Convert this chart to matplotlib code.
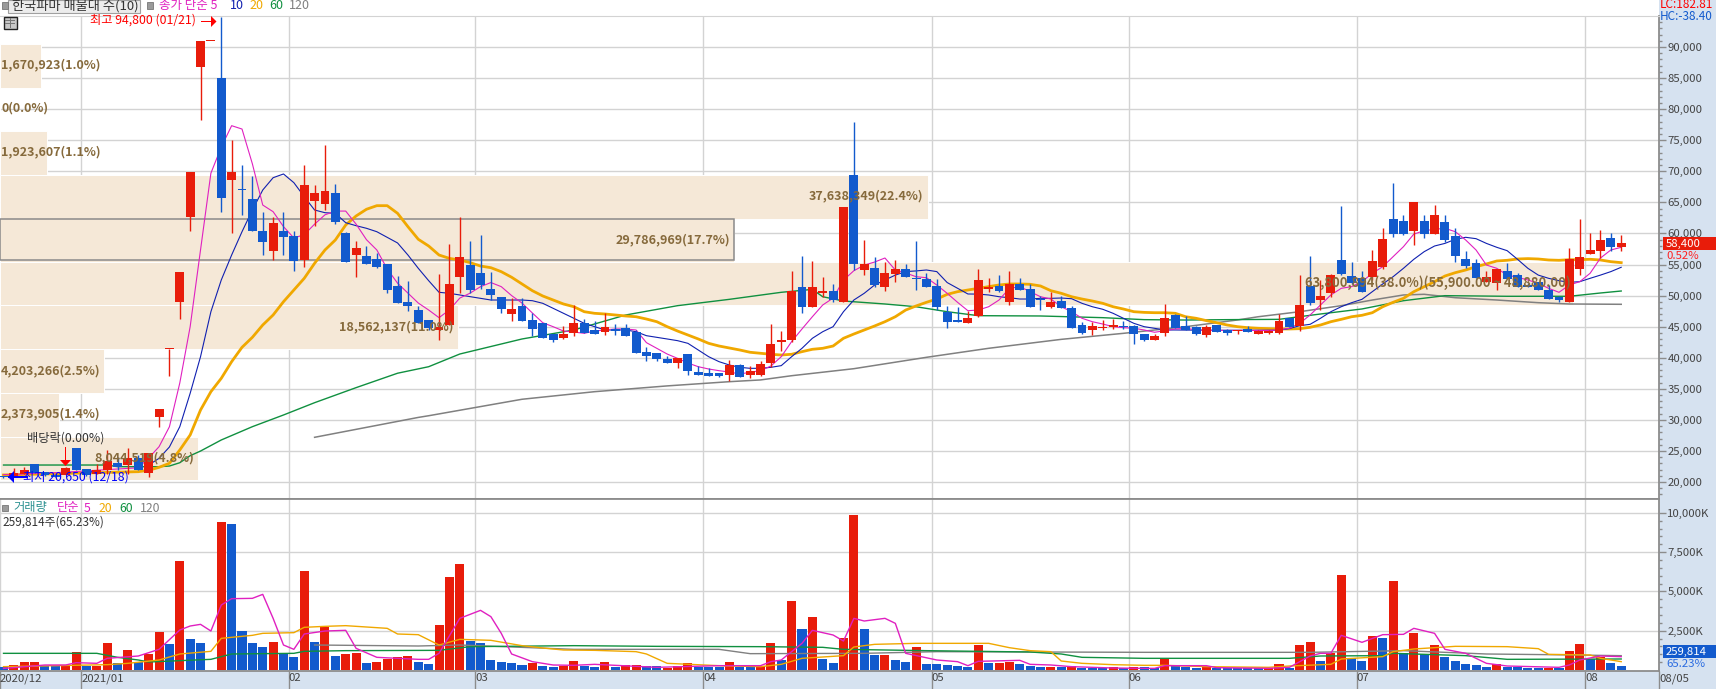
import matplotlib
matplotlib.use("Agg")
import matplotlib.pyplot as plt
from matplotlib.patches import Rectangle, Polygon
from matplotlib.ticker import FixedLocator

plt.rcParams['font.family'] = ['Noto Sans CJK KR', 'DejaVu Sans']

# ---------- candles (open, high, low, close), daily bars ----------
opens = [20900,20810,21300,22900,21620,21140,21140,25430,22100,21230,
 21940,23110,22740,23870,21460,30420,41360,49020,62700,86830,
 90900,85010,68600,67100,65550,60390,57200,60390,59590,55730,
 65200,64740,66500,60120,56580,56370,55890,55090,51550,49020,
 47680,46080,44470,45270,53040,54930,53640,51060,49780,47040,
 48330,46080,45590,43870,43150,44040,45640,44470,44150,44630,
 44790,44150,40930,40750,39800,39150,40600,37710,37550,37550,
 37220,38830,37220,37220,39150,42550,42860,51380,48170,50420,
 50740,48970,69400,54120,54440,51380,53480,54280,52750,52670,
 51550,47360,46000,45590,46720,51100,51550,48970,51870,51060,
 49350,48170,49130,48000,45270,44470,44800,44870,45100,45110,
 43820,42860,43980,46880,45110,44950,43660,45270,44470,44230,
 44630,43820,43980,43980,46400,45110,51550,49290,50420,55730,
 53150,52830,52990,54600,62320,62000,60390,62000,59910,61840,
 59590,55890,55250,52190,52020,53960,53320,51700,52190,50900,
 49770,48970,54280,56690,57170,59270,57820]
highs = [21000,22260,22470,22900,21620,21300,22400,25430,22100,22900,
 25160,24000,25500,24350,24680,31750,41400,53800,69840,90900,
 90900,94800,75040,71000,69240,63450,62600,63450,60440,71020,
 67800,74230,67960,60300,58830,58030,56900,55090,53150,52400,
 48330,46080,53480,58300,62600,58790,59750,53800,49780,49560,
 49560,47250,45590,43870,45110,48490,46230,45910,47200,45430,
 45430,44470,41730,40750,40280,39960,40600,38670,38360,37550,
 39640,39000,38670,39480,45430,44310,53960,56370,55570,52990,
 51870,64260,77930,58950,56200,55400,55730,55090,58790,53640,
 52670,48330,48170,47520,54280,52830,53300,53960,52830,51870,
 49930,50580,49930,48330,45750,45750,46080,46230,45900,45300,
 43820,43820,48650,47000,46700,45100,45270,45270,44600,44500,
 45100,44500,44500,47040,46400,53300,56370,52510,53500,64420,
 55400,54000,57340,60900,68120,62970,65060,62970,64580,62970,
 60900,57170,55890,53960,54280,55250,53640,52000,52190,51700,
 49930,57660,62320,60060,60550,60060,59750]
lows = [20650,20810,21300,21460,21000,20860,21140,21940,21000,21230,
 21300,22000,21300,21940,20860,28800,37110,46230,60440,78250,
 90900,63500,60120,63000,60440,56500,55730,56530,54000,54600,
 61200,63770,61520,55450,53040,55090,54400,50370,48860,47570,
 45640,44500,42860,45270,50460,50460,51020,49290,47150,45970,
 45970,43500,43220,42530,42990,43500,43930,43820,43660,43660,
 43500,40750,39480,39480,39150,38360,37220,37220,37060,36900,
 36260,36900,36740,37000,38520,41080,42500,47200,48170,49780,
 49000,48970,54120,53300,51380,50740,52190,52990,50900,51380,
 47680,44790,45750,45590,46500,50580,50500,48490,50900,48170,
 47680,48000,48000,44790,43820,43660,44470,44700,44700,42210,
 42700,42860,43500,44790,44470,43600,43340,44150,43600,43800,
 44150,43800,43900,43800,44950,44310,48500,47680,49700,53300,
 51800,50580,52500,54300,59500,59800,58140,59300,59910,58600,
 55400,54400,52830,52190,50900,52670,51380,51380,50900,49450,
 48970,48970,53300,56690,56040,57170,57170]
closes = [20750,21460,21940,21460,21140,20860,22260,21940,21140,21940,
 23390,22470,23870,21940,24680,31750,41400,53800,69840,90900,
 90900,65700,69900,67000,60440,58670,61680,59480,55620,67800,
 66500,66830,61900,55450,57650,55090,54560,50900,48860,48380,
 45640,44730,44950,51870,56210,50900,51710,50100,47850,47850,
 45970,44580,43220,42910,43790,45590,43930,43820,44950,44310,
 43500,40750,40280,39800,39150,39960,37870,37220,37060,37060,
 38830,36900,37870,38990,42210,42800,50740,48170,51380,50700,
 49290,64260,55090,55130,51710,53640,54280,52990,52600,51380,
 48170,45750,45800,46400,52510,51350,50740,51870,50900,48170,
 49230,48970,48000,44790,43980,45110,44950,45270,44960,43820,
 42860,43500,46400,44790,44470,43820,44950,44150,44040,44390,
 44150,44310,44310,45910,44950,48490,48810,49930,53320,53480,
 52020,50580,55570,59110,59910,59910,65060,59910,62970,58950,
 56370,54760,52830,52990,54280,52670,51380,51380,50900,49450,
 49290,55890,56210,57340,58950,57820,58400]

volumes_k = [190,320,510,510,275,233,275,1145,275,275,
 1717,445,1272,510,1018,2417,1654,6932,1972,1717,
 20,9413,9286,2480,1717,1463,1781,1060,827,6296,
 1781,2735,890,1018,1081,445,510,720,827,890,
 510,382,2862,5915,6742,1844,1717,636,510,445,
 318,424,254,190,275,572,275,190,510,190,
 318,318,275,233,148,275,445,190,190,190,
 510,190,190,254,1717,636,4388,2608,3370,700,
 445,2035,9858,2608,954,954,636,510,1463,382,
 382,318,254,190,1590,445,445,510,382,254,
 190,190,212,254,148,148,148,170,106,170,
 190,148,742,275,190,148,275,148,127,110,
 110,110,120,403,148,1590,1781,572,1081,6042,
 763,572,2162,2035,5660,1081,2353,1018,1590,827,
 572,382,318,190,360,190,190,148,148,148,
 148,1208,1654,700,827,445,260]
volume_up = ("brrrbbrrbr" "rbrbrrbrbb" "rrbbbbrbbr" "brbrrbrrrr"
 "bbrrrbbbbb" "brbbrrbbrb" "rrbbrrrbbb" "rbbrrbrbrb"
 "brrbbrbbrb" "bbbbrbrrbb" "brbrbbbrbr" "bbrbbbrbbb"
 "bbrrbrrbrr" "bbrbrbrbrb" "bbbbrbbbbr" "brrbrbb")

# ---------- price moving averages (bar index, price) ----------
ma5_idx = list(range(0,157))
ma5_val = [21200,21200,21300,21400,21500,21500,21600,21700,21800,21900,
 22000,22100,22200,22300,23870,25690,28900,35940,45000,57340,
 69700,73900,77340,76800,71200,64570,63500,61100,59270,59800,
 61500,63000,63600,63600,61500,59000,57340,54300,52000,50400,
 48800,47680,46450,47700,49600,50400,51440,52100,51440,50000,
 48800,47200,45640,45000,44300,44140,43930,44300,44470,44630,
 44630,44470,42430,41520,40600,39900,39150,38560,38190,37920,
 37700,37390,37660,37930,38670,40170,42600,44630,46600,48490,
 49600,52500,54000,54900,55400,56050,54120,53640,53040,52880,
 51700,50370,48920,47570,47680,48210,49290,51170,51440,50630,
 49820,49450,48210,47410,46350,45800,45430,45000,44840,44740,
 44470,44100,44350,44630,44740,44500,44400,44400,44400,44400,
 44400,44400,44400,44470,44740,45540,46880,48490,50100,51170,
 51440,52240,53590,54650,56260,57870,59900,60440,60660,60830,
 60280,58950,57340,54920,54390,53300,52950,52510,51980,51170,
 50530,51710,52240,53590,56050,57340,57770]
ma10_idx = list(range(14,157))
ma10_val = [22740,23820,25640,28910,34280,40170,47410,52510,56530,60280,
 63770,66990,68970,69570,68170,65920,63770,63340,63240,61730,
 61250,60830,60280,59380,58470,56530,54390,52400,50530,50370,
 50100,49820,49560,49290,49290,49290,49290,49180,48760,47960,
 47150,46350,45540,45000,44470,44470,44470,44190,43550,43290,
 43020,42750,42320,41250,40170,39370,38830,38460,38300,38300,
 38460,38730,40170,41520,43130,44190,45000,47410,49290,50370,
 51700,52510,53300,53860,53970,54120,53860,52100,51170,50260,
 50240,50100,49820,49660,49450,49450,49560,49560,49610,49500,
 48760,48210,47800,47150,46350,45540,45000,44740,44470,44470,
 44450,44450,44450,44420,44420,44420,44420,44420,44420,44430,
 44700,45160,45380,46350,47410,48210,48860,49400,50630,51870,
 53040,54390,55840,57070,57980,58400,59060,59380,59160,58400,
 57770,57230,55840,54390,53300,52780,52400,52140,52240,52780,
 53300,53860,54560]
ma20_idx = [0,13] + list(range(14,157))
ma20_val = [21140,21670,21890,22370,23020,25160,27570,31590,34540,36690,
 39370,41680,43290,45270,46880,49020,50900,52780,55200,57340,
 58950,61360,62810,63890,64470,64470,63240,61090,59060,57980,
 56530,55990,55730,55300,54760,54490,53850,52950,51870,50790,
 49940,49290,48650,48210,47410,47150,47040,46880,46720,46600,
 46230,45800,45000,44300,43660,43020,42320,41890,41570,41250,
 40880,40720,40560,40440,40560,40980,41360,41520,41890,43130,
 43820,44470,45110,45800,46600,47680,48330,48920,49450,50200,
 50630,50900,51170,51440,51710,51870,51870,51820,51550,50790,
 50370,49820,49450,49130,48760,48210,47840,47410,47300,47250,
 47250,47150,46600,46350,45970,45640,45270,45000,44840,44740,
 44680,44630,44630,44680,44900,45270,45800,46180,46600,46830,
 47250,48210,48920,49560,50630,51440,52240,53150,53690,54120,
 54650,55090,55570,55680,55890,55950,55890,55730,55680,55780,
 55780,55840,55730,55460,55300]
ma60_idx = [0,10,11,15,16,17,18,19,21,24,27,30,34,38,41,44,50,55,60,65,70,75,78,79,81,85,88,91,94,100,106,110,114,118,123,127,131,135,139,145,151,154,156]
ma60_val = [22740,22740,22470,22470,22580,23110,24240,24990,26770,28910,30790,32770,35190,37510,38560,40600,43020,44470,46880,48380,49400,50530,51000,49820,49130,48650,48210,47410,46770,46720,46450,46130,46070,46130,46180,47040,47850,49180,49990,49890,49890,50420,50740]
ma120_idx = [30,40,41,50,57,64,70,73,76,82,89,95,102,108,114,119,121,125,129,132,135,137,140,144,148,151,156]
ma120_val = [27200,30400,30670,33320,34540,35470,36150,36430,37110,38240,40070,41520,42960,43930,45000,46080,46600,47410,48380,49290,50100,50210,49660,49290,48860,48650,48600]

# ---------- volume moving averages (bar index, thousands) ----------
vma5_idx = [0,4,6,7,9,10,13,15,17,18,19,20,21,22,24,25,26,27,28,29,31,33,34,36,40,41,42,44,46,47,48,49,51,53,55,57,63,69,73,74,75,77,78,80,81,82,83,85,86,87,90,92,93,94,98,99,101,103,107,110,111,112,116,117,122,124,126,127,128,129,131,133,135,136,138,139,141,143,145,150,151,152,154,156]
vma5_val = [100,318,318,466,424,742,890,1314,2544,2798,2904,2480,4134,4537,4558,4812,3286,1590,1314,2290,2480,2523,1378,806,678,678,1060,3286,3795,3392,2332,1018,530,318,297,360,170,275,275,530,636,1696,2523,2226,1844,3286,3116,3286,2968,1060,636,530,275,551,615,360,318,212,127,106,106,275,275,148,106,170,890,1060,1060,2205,1760,2247,2268,2650,2332,1314,1060,424,254,170,318,636,890,848]
vma20_idx = [0,10,12,15,17,20,21,24,25,28,29,31,33,37,38,40,42,44,47,50,52,54,57,61,62,64,69,73,75,77,81,82,84,88,95,97,99,101,102,104,107,110,112,116,122,124,128,129,133,134,136,140,145,148,149,153,154,156]
vma20_val = [212,339,424,636,1018,1187,2014,2205,2332,2374,2714,2777,2820,2650,2290,2247,1590,1950,1887,1548,1399,1272,1250,1166,1018,424,275,212,360,742,912,1463,1632,1696,1696,1420,1230,1166,572,424,339,297,297,212,170,254,360,700,848,1166,1336,1505,1484,1357,996,954,742,530]
vma60_idx = [0,9,11,13,14,20,22,28,29,33,42,45,55,63,73,79,81,89,99,102,104,110,124,127,133,134,141,145,156]
vma60_val = [1060,1060,806,636,509,678,1018,1060,1187,1230,1250,1484,1548,1505,1484,1442,1314,1230,1145,1018,806,742,742,890,912,1060,912,678,700]
vma120_idx = [30,40,44,55,69,72,83,90,110,126,135,143,149,156]
vma120_val = [1590,1526,1590,1314,1314,1039,1060,1166,1124,1124,1230,1018,975,912]

# ---------- volume profile bands (top to bottom) ----------
band_edges = [90480,83480,76480,69400,62320,55400,48420,41410,34330,27250,20330]
band_vol = [1670923,0,1923607,37638349,29786969,63800894,18562137,4203266,2373905,8044519]
band_pct = [1.0,0.0,1.1,22.4,17.7,38.0,11.0,2.5,1.4,4.8]
band_range = "(55,900.00 ~ 48,880.00)"

month_ticks = [7.5,27.5,45.5,67.5,89.5,108.5,130.5,152.5]
month_labels = ["2021/01","02","03","04","05","06","07","08"]
price_ticks = [20000,25000,30000,35000,40000,45000,50000,55000,60000,65000,70000,75000,80000,85000,90000]
price_minor = list(range(18000,95000,1000))
vol_ticks = [2500,5000,7500,10000]
vol_minor = list(range(500,10500,500))

RED, BLUE = "#e81c0a", "#125acd"
TAN, GRID, STRIP, AXC = "#f5e8d7", "#d3d3d3", "#d6e2f0", "#8c8c8c"
BROWN = "#866a3c"
C5, C10, C20, C60, C120 = "#e020c0", "#1020b0", "#f0a800", "#109040", "#808080"

W, H = 1716, 689
fig = plt.figure(figsize=(W/100, H/100), dpi=100, facecolor="white")
def box(x0, y0, x1, y1):
    return [x0/W, 1-y1/H, (x1-x0)/W, (y1-y0)/H]
def T(x, y, s, **kw):
    kw.setdefault("va", "center")
    kw.setdefault("ha", "left")
    return fig.text(x/W, 1-y/H, s, **kw)

fig.add_artist(Rectangle((1659/W, 0), (W-1659)/W, 1, transform=fig.transFigure, fc=STRIP, ec="none", zorder=-2))
fig.add_artist(Rectangle((0, 0), 1, (H-671)/H, transform=fig.transFigure, fc=STRIP, ec="none", zorder=-2))

PX = 10.37
XLIM = (-3.5/PX, (1659-3.5)/PX)
ax = fig.add_axes(box(0, 16, 1659, 499))
ax.set_xlim(*XLIM)
ax.set_ylim(90000-(499-47)*160.9, 90000+(47-16)*160.9)
av = fig.add_axes(box(0, 499, 1659, 671))
av.set_xlim(*XLIM)
av.set_ylim(-64, (670-499)/39.3*2500)

for a in (ax, av):
    a.set_axisbelow(True)
    a.grid(True, which="major", color=GRID, lw=1.0)
    a.spines["left"].set_visible(False)
    for s in ("right", "bottom"):
        a.spines[s].set_color(AXC)
        a.spines[s].set_linewidth(1.3)
    a.yaxis.tick_right()
ax.spines["top"].set_color(GRID)
av.spines["top"].set_color(AXC)
av.spines["top"].set_linewidth(1.3)

ax.set_xticks(month_ticks)
ax.tick_params(axis="x", length=0, labelbottom=False)
ax.set_yticks(price_ticks)
ax.set_yticklabels([f"{v:,}" for v in price_ticks])
ax.yaxis.set_minor_locator(FixedLocator(price_minor))
ax.tick_params(axis="y", which="major", length=5, width=1, color=AXC, labelsize=8.2, labelcolor="#444444", pad=1)
ax.tick_params(axis="y", which="minor", length=2.5, width=1, color=AXC)

av.set_yticks(vol_ticks)
av.set_yticklabels([f"{v:,}K" for v in vol_ticks])
av.yaxis.set_minor_locator(FixedLocator(vol_minor))
av.tick_params(axis="y", which="major", length=5, width=1, color=AXC, labelsize=8.2, labelcolor="#444444", pad=1)
av.tick_params(axis="y", which="minor", length=2.5, width=1, color=AXC)
av.set_xticks([XLIM[0]] + month_ticks + [XLIM[1]])
av.set_xticklabels(["2020/12"] + month_labels + ["08/05"])
av.tick_params(axis="x", length=13, width=1, color=AXC, labelsize=8.2, labelcolor="#444444", pad=-11.5)
for lab in av.get_xticklabels():
    lab.set_ha("left")

# volume profile
PX_PER_VOL = 24.65e-6 / PX
for k, v in enumerate(band_vol):
    ax.barh(band_edges[k+1], (v*PX_PER_VOL), height=band_edges[k]-band_edges[k+1], left=XLIM[0],
            align="edge", color=TAN, edgecolor="white", linewidth=0.7, zorder=1)
ax.add_patch(Rectangle((XLIM[0], band_edges[5]+280), band_vol[4]*PX_PER_VOL, band_edges[4]-band_edges[5]-280,
                       fc=TAN, ec="#8a8a8a", lw=1.1, zorder=1.2))
label_y = [65,108,152,196,239.5,283,327,371,414,458]
for k, v in enumerate(band_vol):
    s = f"{v:,}({band_pct[k]:.1f}%)"
    if k == 5:
        s += band_range
    right = v*24.65e-6
    if right > 150:
        xp = right-4
        fs = 9
        if k == 5:
            xp = 1571
            fs = 9.3
        T(xp, label_y[k], s, ha="right", color=BROWN, fontsize=fs, fontweight="bold", zorder=3)
    else:
        T(1, label_y[k], s, color=BROWN, fontsize=9, fontweight="bold", zorder=3)

# price moving averages
ax.plot(ma120_idx, ma120_val, color=C120, lw=1.1, zorder=2)
ax.plot(ma60_idx, ma60_val, color=C60, lw=1.0, zorder=2.1)
ax.plot(ma20_idx, ma20_val, color=C20, lw=2.0, zorder=2.2)
ax.plot(ma10_idx, ma10_val, color=C10, lw=0.8, zorder=2.3)
ax.plot(ma5_idx, ma5_val, color=C5, lw=0.8, zorder=2.4)

# candles
for i, (o, h, l, c) in enumerate(zip(opens, highs, lows, closes)):
    col = RED if c >= o else BLUE
    ax.vlines(i, l, h, color=col, lw=1.0, zorder=4)
    bottom, height = min(o, c), max(abs(c-o), 220)
    ax.bar(i, height, bottom=bottom, width=0.86, color=col, linewidth=0, zorder=4.1)

# volume
for i, v in enumerate(volumes_k):
    av.bar(i, v, width=0.87, color=RED if volume_up[i] == "r" else BLUE, linewidth=0, zorder=2)
av.plot(vma120_idx, vma120_val, color=C120, lw=1.0, zorder=3)
av.plot(vma60_idx, vma60_val, color=C60, lw=1.0, zorder=3.1)
av.plot(vma20_idx, vma20_val, color=C20, lw=1.0, zorder=3.2)
av.plot(vma5_idx, vma5_val, color=C5, lw=1.0, zorder=3.3)

# header row
fig.add_artist(Rectangle((8/W, 1-13/H), 132/W, 13/H, transform=fig.transFigure, fc="#ececec", ec="#a0a0a0", lw=0.8, zorder=4))
fig.add_artist(Rectangle((1.5/W, 1-8.5/H), 6/W, 6/H, transform=fig.transFigure, fc="#9a9a9a", ec="#777777", lw=0.6, zorder=4))
fig.add_artist(Rectangle((147/W, 1-8.5/H), 6/W, 6/H, transform=fig.transFigure, fc="#9a9a9a", ec="#777777", lw=0.6, zorder=4))
T(12, 5.5, "한국파마 매물대 수(10)", color="#333333", fontsize=9.5, zorder=5)
T(159, 5.5, "종가 단순 5", color=C5, fontsize=9, zorder=5)
T(230, 5.5, "10", color=C10, fontsize=9, zorder=5)
T(249, 5.5, "20", color=C20, fontsize=9, zorder=5)
T(269, 5.5, "60", color=C60, fontsize=9, zorder=5)
T(289, 5.5, "120", color=C120, fontsize=9, zorder=5)
# small table icon
fig.add_artist(Rectangle((3.5/W, 1-29/H), 13/W, 12/H, transform=fig.transFigure, fc="#c8c8c8", ec="#222222", lw=1.0, zorder=4))
for gx in (7.5, 10, 12.5):
    fig.add_artist(Rectangle((gx/W, 1-27.5/H), 0.6/W, 9/H, transform=fig.transFigure, fc="#777777", ec="none", zorder=4.5))
for gy in (21, 24):
    fig.add_artist(Rectangle((5/W, 1-gy/H), 10/W, 0.6/H, transform=fig.transFigure, fc="#777777", ec="none", zorder=4.5))

# markers
T(90, 20, "최고 94,800 (01/21)", color="#ff0000", fontsize=8.8, zorder=6)
fig.add_artist(Rectangle((201/W, 1-21.5/H), 11/W, 1/H, transform=fig.transFigure, fc="#ff0000", ec="none", zorder=6))
fig.add_artist(Polygon([[211/W, 1-16/H], [216.5/W, 1-21.5/H], [211/W, 1-27/H]], closed=True, transform=fig.transFigure, fc="#ff0000", ec="none", zorder=6))
T(23, 477, "최저 20,650 (12/18)", color="#0000ff", fontsize=8.8, zorder=6)
fig.add_artist(Rectangle((8/W, 1-477.5/H), 20/W, 1.4/H, transform=fig.transFigure, fc="#0000ff", ec="none", zorder=6))
fig.add_artist(Polygon([[8/W, 1-477/H], [14/W, 1-471/H], [14/W, 1-483/H]], closed=True, transform=fig.transFigure, fc="#0000ff", ec="none", zorder=6))
T(27, 438, "배당락(0.00%)", color="#333333", fontsize=8.8, zorder=6)
fig.add_artist(Rectangle((65.2/W, 1-461/H), 1/W, 14.5/H, transform=fig.transFigure, fc="#ff0000", ec="none", zorder=6))
fig.add_artist(Polygon([[60/W, 1-460/H], [71/W, 1-460/H], [65.5/W, 1-466/H]], closed=True, transform=fig.transFigure, fc="#ff0000", ec="none", zorder=6))

# volume header
fig.add_artist(Rectangle((1.5/W, 1-511/H), 6/W, 6/H, transform=fig.transFigure, fc="#9a9a9a", ec="#777777", lw=0.6, zorder=4))
T(13, 508, "거래량", color="#2a9090", fontsize=8.8, zorder=6)
T(57, 508, "단순", color=C5, fontsize=8.8, zorder=6)
T(84, 508, "5", color=C5, fontsize=8.8, zorder=6)
T(99, 508, "20", color=C20, fontsize=8.8, zorder=6)
T(119, 508, "60", color=C60, fontsize=8.8, zorder=6)
T(140, 508, "120", color=C120, fontsize=8.8, zorder=6)
T(2.5, 522, "259,814주(65.23%)", color="#333333", fontsize=8.5, zorder=6)

# right-hand readouts
T(1660, 4, "LC:182.81", color="#ff0000", fontsize=8.5, zorder=6)
T(1660, 16, "HC:-38.40", color="#125acd", fontsize=8.5, zorder=6)
fig.add_artist(Rectangle((1663/W, 1-250/H), 53/W, 13/H, transform=fig.transFigure, fc=RED, ec="none", zorder=5))
T(1666, 243.5, "58,400", color="white", fontsize=8.2, zorder=6)
T(1666, 256, "0.52%", color="#ff2020", fontsize=8.2, zorder=6)
fig.add_artist(Rectangle((1663/W, 1-657.7/H), 53/W, 12.7/H, transform=fig.transFigure, fc=BLUE, ec="none", zorder=5))
T(1666, 651.5, "259,814", color="white", fontsize=8.2, zorder=6)
T(1666, 664, "65.23%", color="#2a6be0", fontsize=8.2, zorder=6)

fig.savefig("out.png", dpi=100)
